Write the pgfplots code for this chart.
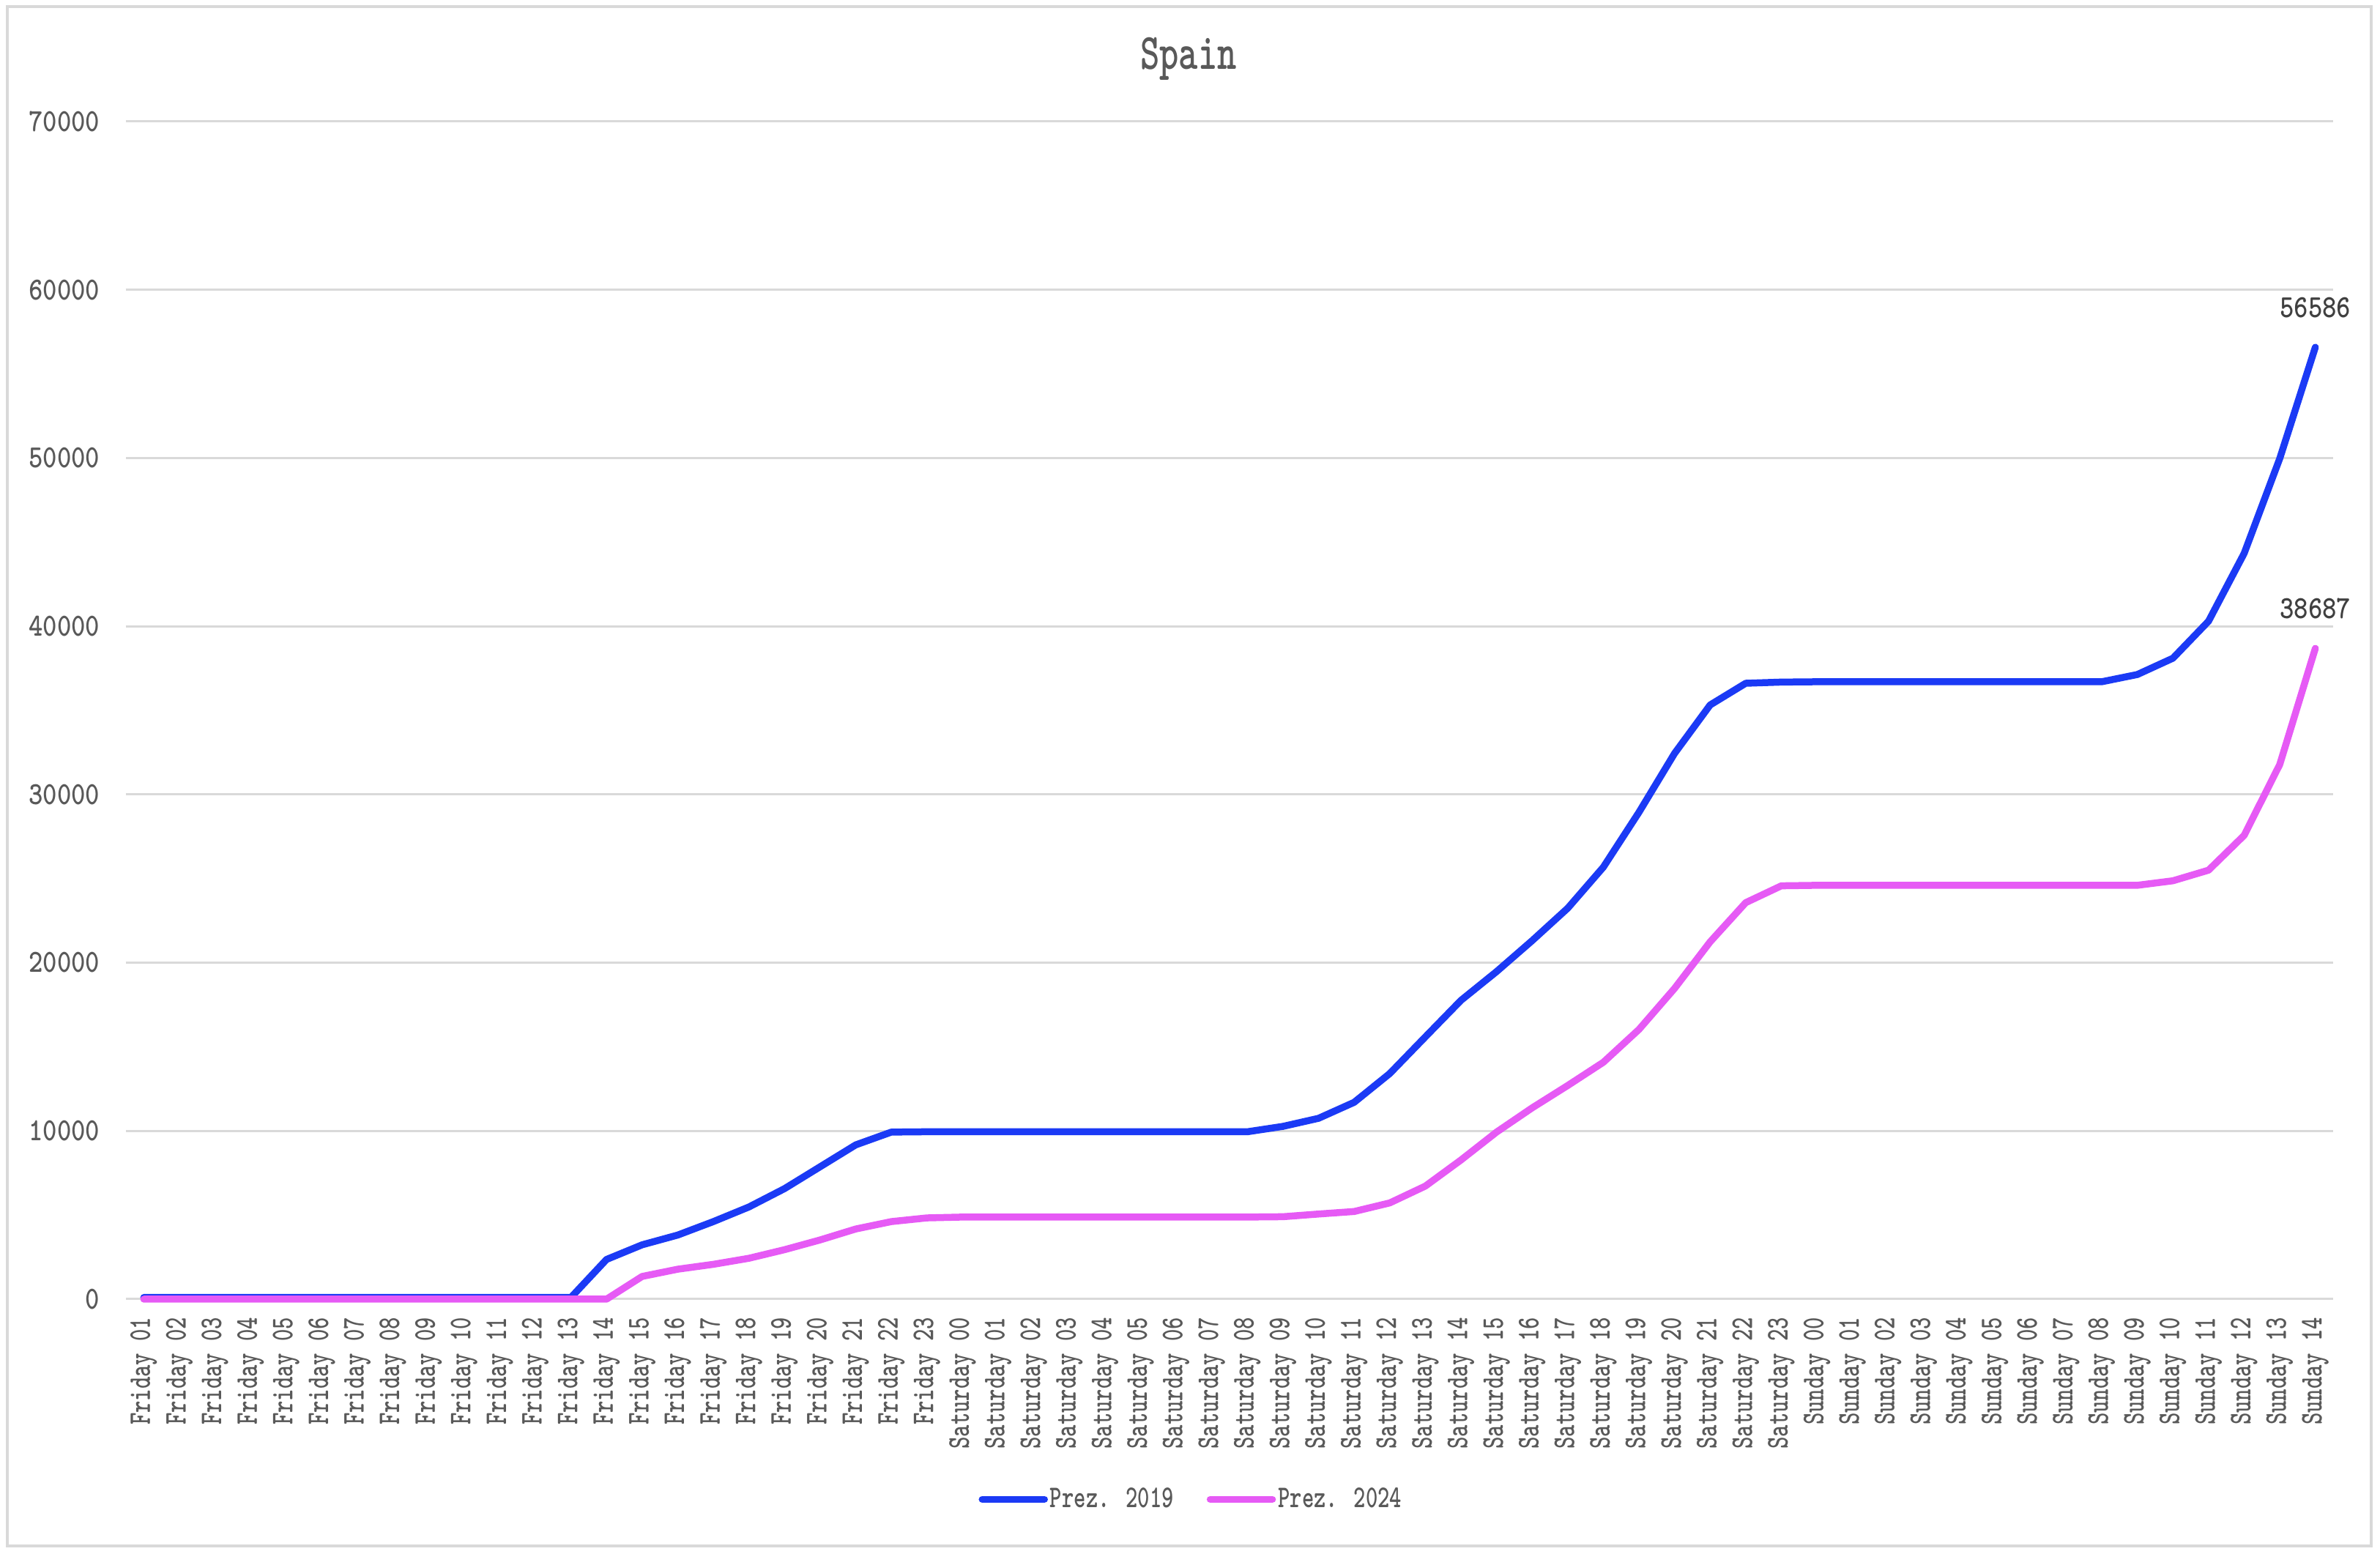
\documentclass[border=0pt]{standalone}
\usepackage{fontspec}
\setmainfont{Liberation Mono}
\newfontfamily\cf{lmmonolt10-bold}[Extension=.otf, FakeStretch=0.72]
\newfontfamily\cg{lmmonolt10-bold}[Extension=.otf, FakeStretch=0.84]
\usepackage{pgfplots}
\pgfplotsset{compat=1.18}
\usepackage{pgfplotstable}
\definecolor{sblue}{RGB}{27,58,245}
\definecolor{spink}{RGB}{230,90,245}
\definecolor{txtgray}{RGB}{89,89,89}
\definecolor{lblgray}{RGB}{64,64,64}
\definecolor{gridgray}{RGB}{217,217,217}

% cumulative counts, one row per hour (0 = Friday 01 ... 61 = Sunday 14)
\pgfplotstableread{
x b p
0 100 0
1 100 0
2 100 0
3 100 0
4 100 0
5 100 0
6 100 0
7 100 0
8 100 0
9 100 0
10 100 0
11 100 0
12 100 0
13 2360 0
14 3230 1350
15 3810 1780
16 4610 2070
17 5480 2430
18 6570 2940
19 7870 3520
20 9170 4170
21 9930 4610
22 9950 4830
23 9950 4880
24 9950 4880
25 9950 4880
26 9950 4880
27 9950 4880
28 9950 4880
29 9950 4880
30 9950 4880
31 9950 4880
32 10270 4900
33 10750 5060
34 11700 5210
35 13410 5720
36 15590 6720
37 17760 8270
38 19470 9930
39 21310 11370
40 23240 12700
41 25680 14080
42 28940 16030
43 32440 18470
44 35320 21240
45 36610 23570
46 36680 24570
47 36700 24600
48 36700 24600
49 36700 24600
50 36700 24600
51 36700 24600
52 36700 24600
53 36700 24600
54 36700 24600
55 36700 24600
56 37130 24600
57 38100 24870
58 40300 25500
59 44330 27570
60 49970 31780
61 56586 38687
}\votes

\begin{document}
\begin{tikzpicture}
\useasboundingbox (-1.72,-3.48) rectangle (30.78,17.74);
\draw[gridgray, line width=0.04cm] (-1.62,-3.37) rectangle (30.66,17.65);
\begin{axis}[
  at={(0,0)}, anchor=south west,
  width=30.14cm, height=16.08cm, scale only axis,
  xmin=-0.5, xmax=61.5, ymin=0, ymax=70000,
  clip=false,
  axis line style={draw=none},
  major tick length=0pt,
  ymajorgrids,
  major grid style={gridgray, line width=0.03cm},
  ytick={0,10000,...,70000},
  scaled y ticks=false,
  /pgf/number format/1000 sep={},
  /pgf/number format/assume math mode=true,
  y tick label style={font=\cg\fontsize{12.5}{14}\selectfont, text=txtgray, anchor=east, inner sep=0pt},
  yticklabel shift=0.35cm,
  xtick={0,...,61},
  xticklabels={Friday 01,Friday 02,Friday 03,Friday 04,Friday 05,Friday 06,Friday 07,Friday 08,Friday 09,Friday 10,Friday 11,Friday 12,Friday 13,Friday 14,Friday 15,Friday 16,Friday 17,Friday 18,Friday 19,Friday 20,Friday 21,Friday 22,Friday 23,
    Saturday 00,Saturday 01,Saturday 02,Saturday 03,Saturday 04,Saturday 05,Saturday 06,Saturday 07,Saturday 08,Saturday 09,Saturday 10,Saturday 11,Saturday 12,Saturday 13,Saturday 14,Saturday 15,Saturday 16,Saturday 17,Saturday 18,Saturday 19,Saturday 20,Saturday 21,Saturday 22,Saturday 23,
    Sunday 00,Sunday 01,Sunday 02,Sunday 03,Sunday 04,Sunday 05,Sunday 06,Sunday 07,Sunday 08,Sunday 09,Sunday 10,Sunday 11,Sunday 12,Sunday 13,Sunday 14},
  x tick label style={font=\cf\fontsize{12.3}{13}\selectfont, text=txtgray, rotate=90, anchor=east, inner sep=0pt},
  xticklabel shift=0.24cm,
  legend columns=2,
  legend style={at={(0.4827,-0.170)}, anchor=center, draw=none, fill=none,
    font=\cf\fontsize{12.3}{13}\selectfont, text=txtgray,
    nodes={inner sep=0.03cm},
    /tikz/every even column/.append style={column sep=0.42cm}},
  legend image code/.code={\draw[#1, line cap=round] (0cm,0cm) -- (0.85cm,0cm);},
]
\addplot[sblue, line width=0.095cm, line cap=round, line join=round] table[x=x, y=b] {\votes};
\addlegendentry{Prez. 2019}
\addplot[spink, line width=0.095cm, line cap=round, line join=round] table[x=x, y=p] {\votes};
\addlegendentry{Prez. 2024}
\node[anchor=base, yshift=0.41cm, font=\cg\fontsize{12.5}{14}\selectfont, text=lblgray] at (axis cs:61,56586) {56586};
\node[anchor=base, yshift=0.41cm, font=\cg\fontsize{12.5}{14}\selectfont, text=lblgray] at (axis cs:61,38687) {38687};
\end{axis}
\node[anchor=base, font=\cf\fontsize{19.8}{21}\selectfont, text=txtgray] at (14.51,16.79) {Spain};
\end{tikzpicture}
\end{document}
